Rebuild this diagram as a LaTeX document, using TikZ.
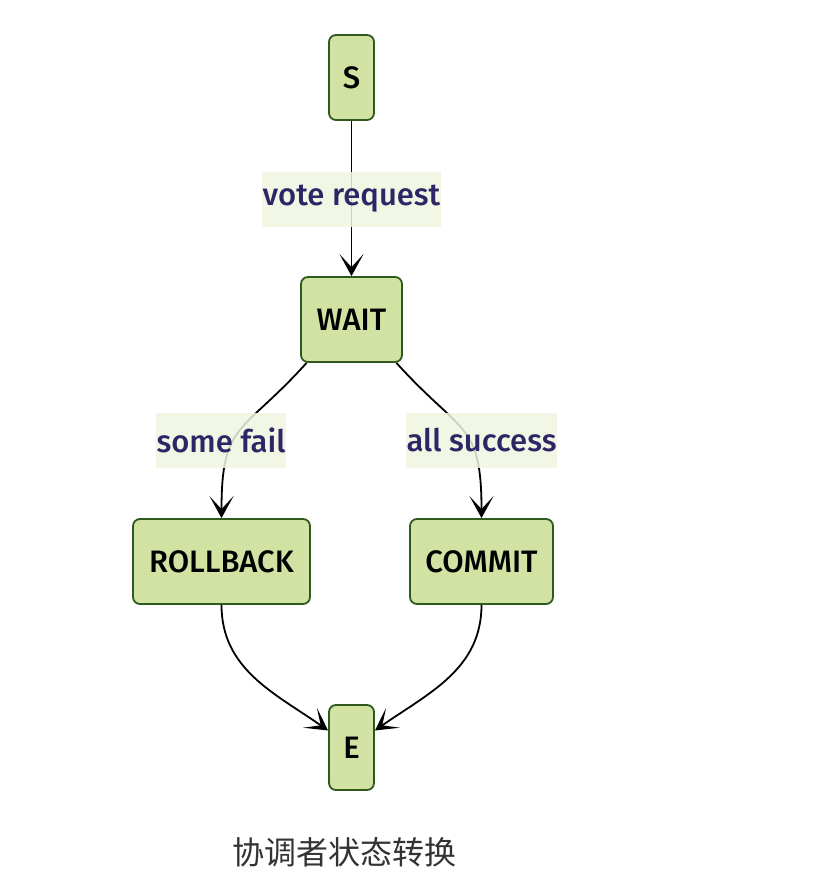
\documentclass[tikz,border=0pt]{standalone}
\usepackage{fontspec}
\setmainfont{Fira Sans}[UprightFont=* Medium]
\newfontfamily\cjk{Noto Sans CJK SC}
\usetikzlibrary{arrows.meta}

\definecolor{statefill}{HTML}{D1E2A3}
\definecolor{stateline}{HTML}{2F5A1E}
\definecolor{lblfill}{HTML}{F0F5E1}
\definecolor{lbltext}{HTML}{2D2566}
\definecolor{captext}{HTML}{333333}

\begin{document}
\begin{tikzpicture}[x=1pt, y=1pt,
    state/.style={draw=stateline, fill=statefill, line width=1.8pt, rounded corners=7pt,
        minimum height=85pt, inner sep=0pt, font=\fontsize{31}{35}\selectfont},
    lbl/.style={fill=lblfill, fill opacity=0.85, text opacity=1, text=lbltext,
        inner xsep=1pt, minimum height=55pt, font=\fontsize{31}{35}\selectfont},
    trans/.style={line width=1.8pt, -{Stealth[length=22pt, width=24pt, inset=13pt]}}]
    \useasboundingbox (0,0) rectangle (824,-878);

    \node[state, minimum width=45pt] (S) at (351.5,-77.5) {S};
    \node[state, minimum width=101pt] (WAIT) at (351.5,-319.5) {WAIT};
    \node[state, minimum width=177pt] (ROLLBACK) at (221.5,-561.5) {ROLLBACK};
    \node[state, minimum width=143pt] (COMMIT) at (481.5,-561.5) {COMMIT};
    \node[state, minimum width=45pt] (E) at (351.5,-747.5) {E};

    \draw[trans] (S) -- (WAIT);
    \draw[trans] (WAIT.-136) to[out=-132, in=90, looseness=1.4] (ROLLBACK.north);
    \draw[trans] (WAIT.-44) to[out=-48, in=90, looseness=1.4] (COMMIT.north);
    \draw[trans] (ROLLBACK.south) to[out=-90, in=145] (E.144);
    \draw[trans] (COMMIT.south) to[out=-90, in=35] (E.36);

    \node[lbl] (vote) at (351.5,-199) {vote request};
    \node[lbl] (fail) at (221,-440) {some fail};
    \node[lbl] (success) at (481.5,-440) {all success};

    \node[text=captext, font=\cjk\fontsize{32}{36}\selectfont] (caption) at (344,-852) {协调者状态转换};
\end{tikzpicture}
\end{document}
